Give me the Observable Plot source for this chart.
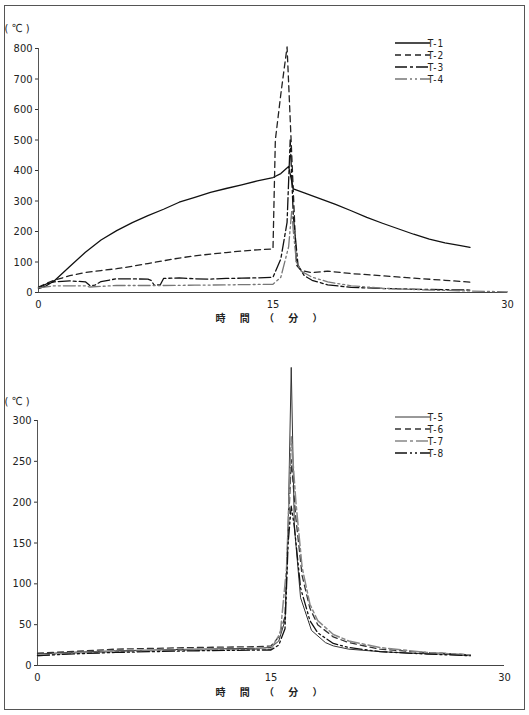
<!DOCTYPE html>
<html><head><meta charset="utf-8">
<script src="https://cdn.jsdelivr.net/npm/d3@7"></script>
<script src="https://cdn.jsdelivr.net/npm/@observablehq/plot@0.6"></script>
<style>
html,body{margin:0;padding:0;background:#fff;}
#page{position:relative;width:529px;height:715px;overflow:hidden;background:#fff;}
#frame{position:absolute;left:4px;top:5px;width:521px;height:705px;border:1px solid #555;box-sizing:border-box;}
#top{position:absolute;left:0;top:0;}
#bot{position:absolute;left:0;top:330px;}
svg text{font-family:"Liberation Sans Narrow","DejaVu Sans Condensed","Liberation Sans",sans-serif;}
</style></head>
<body><div id="page"><div id="frame"></div><div id="top"></div><div id="bot"></div></div>
<script>
// ---- Top panel data (time in minutes, temperature in ℃) ----
const t1 = [0,0.5,1,2,3,4,5,6,7,8,9,10,11,12,13,14,15,15.5,16,16.3,17,18,19,20,21,22,23,24,25,26,27,27.6];
const v1 = [13,22,38,85,132,172,203,229,252,273,296,312,328,341,353,366,377,390,413,340,327,308,289,268,246,227,209,191,175,163,154,148];
const t2 = [0,0.5,1,2,3,4,5,6,7,8,9,10,11,12,13,14,15,15.15,15.5,15.9,16.2,16.5,16.8,17.5,18.5,20,22,24,26,27.6];
const v2 = [18,30,40,55,66,72,78,86,95,104,113,120,126,131,136,140,143,500,650,805,450,90,72,65,70,62,55,47,40,34];
const t3 = [0,0.5,1,2,3,3.3,3.6,4,5,7,7.2,7.4,7.8,8,9,10,11,12,13,14,15,15.5,15.9,16.1,16.3,16.6,17,17.5,18.5,20,22,25,27.6];
const v3 = [15,28,35,38,35,22,24,36,45,44,40,24,26,46,48,45,44,46,47,48,50,110,230,500,250,90,55,40,25,17,13,10,8];
const t4 = [0,1,3,3.3,5,8,10,12,15,15.5,16,16.2,16.3,16.5,16.8,17.5,18.5,20,22,25,27.6,30];
const v4 = [15,22,22,18,23,23,24,25,27,50,150,270,200,100,70,50,35,22,14,8,5,2];
// ---- Bottom panel data ----
const t5 = [0,2,5,10,14,15,15.5,15.9,16.1,16.3,16.5,16.9,17.6,18.5,19,20,22,24,26,27.8];
const v5 = [14,16,18,20,21,22,30,55,170,365,170,83,43,28,24,20,17,15,14,12];
const t6 = [0,2,5,7.5,10,14,15,15.5,15.9,16.1,16.3,16.6,17,17.5,18,19,20,22,24,26,27.8];
const v6 = [15,17,20,21,22,23,24,35,60,160,252,180,110,70,50,35,28,20,17,15,13];
const t7 = [0,2,5,10,15,15.6,16,16.3,16.6,17,17.5,18,19,20,22,25,27.8];
const v7 = [12,15,17,19,20,40,120,280,200,120,75,55,38,30,22,16,13];
const t8 = [0,2,5,10,15,15.5,15.9,16.1,16.3,16.5,16.9,17.5,18,19,20,22,25,27.8];
const v8 = [12,14,16,18,19,25,45,150,195,170,95,55,40,27,22,17,14,12];

const topTicks = [0,100,200,300,400,500,600,700,800];
const botTicks = [0,50,100,150,200,250,300];
const xTicks = [0,15,30];
const topNames = ["T-1","T-2","T-3","T-4"];
const botNames = ["T-5","T-6","T-7","T-8"];
const xTitle = "時 間 （ 分 ）";
const yTitle = "( ℃ )";

const topStyles = [
  {stroke:"#111", dash:null, w:1.3},
  {stroke:"#222", dash:"6,4", w:1.3},
  {stroke:"#111", dash:"12,3,3,3", w:1.3},
  {stroke:"#777", dash:"12,3,2,3,2,3", w:1.3}
];
const botStyles = [
  {stroke:"#333", dash:null, w:1.0},
  {stroke:"#333", dash:"6,4", w:1.3},
  {stroke:"#888", dash:"12,3,3,3", w:1.5},
  {stroke:"#111", dash:"12,3,2,3,2,3", w:1.3}
];

const zip = (ts, vs) => ts.map((t,i)=>({t, v:vs[i]}));

function panel(series, styles, ticks, yMax, opts) {
  const marks = [
    Plot.ruleY([0], {stroke:"#444", strokeWidth:1}),
    Plot.ruleX([0], {stroke:"#555", strokeWidth:1}),
    Plot.axisY(ticks, {tickSize:3, tickPadding:3, fontSize:11, label:null, stroke:"#333"}),
    Plot.axisX(xTicks, {tickSize:0, tickPadding:8, fontSize:11, label:null})
  ];
  series.forEach((d,i)=>{
    const s = styles[i];
    marks.push(Plot.line(d, {x:"t", y:"v", stroke:s.stroke, strokeWidth:s.w, strokeDasharray:s.dash, curve:"linear"}));
  });
  const svg = Plot.plot({
    width:529, height:opts.height,
    marginTop:opts.mt, marginBottom:opts.mb, marginLeft:opts.ml, marginRight:opts.mr,
    x:{domain:[0,30]}, y:{domain:[0,yMax]},
    style:{background:"transparent", color:"#222", overflow:"visible"},
    marks
  });
  const sel = d3.select(svg);
  sel.append("text").attr("x",17).attr("y",opts.ylabY).attr("font-size",11).attr("fill","#222").text(yTitle);
  sel.append("text").attr("x",272).attr("y",opts.xlabY).attr("text-anchor","middle")
     .attr("font-size",10).attr("font-weight","bold").attr("fill","#222")
     .style("font-family","'Noto Sans CJK JP',sans-serif").style("letter-spacing","6px").text(xTitle);
  // legend
  opts.names.forEach((n,i)=>{
    const y = opts.legY[i], s = styles[i];
    sel.append("line").attr("x1",395).attr("x2",430).attr("y1",y).attr("y2",y)
       .attr("stroke",s.stroke).attr("stroke-width",s.w).attr("stroke-dasharray",s.dash);
    sel.append("text").attr("x",436).attr("y",y+3.5).attr("font-size",10).attr("fill","#222")
       .style("letter-spacing","1px").text(n);
  });
  return svg;
}

document.getElementById("top").appendChild(panel(
  [zip(t1,v1),zip(t2,v2),zip(t3,v3),zip(t4,v4)], topStyles, topTicks, 800,
  {height:330, mt:48, mb:38, ml:38, mr:22, ylabY:32, xlabY:322, names:topNames, legY:[43,55,67,79]}
));
document.getElementById("bot").appendChild(panel(
  [zip(t5,v5),zip(t6,v6),zip(t7,v7),zip(t8,v8)], botStyles, botTicks, 300,
  {height:385, mt:90, mb:50, ml:37, mr:25, ylabY:75, xlabY:366, names:botNames, legY:[87,99,111,123]}
));
</script></body></html>
